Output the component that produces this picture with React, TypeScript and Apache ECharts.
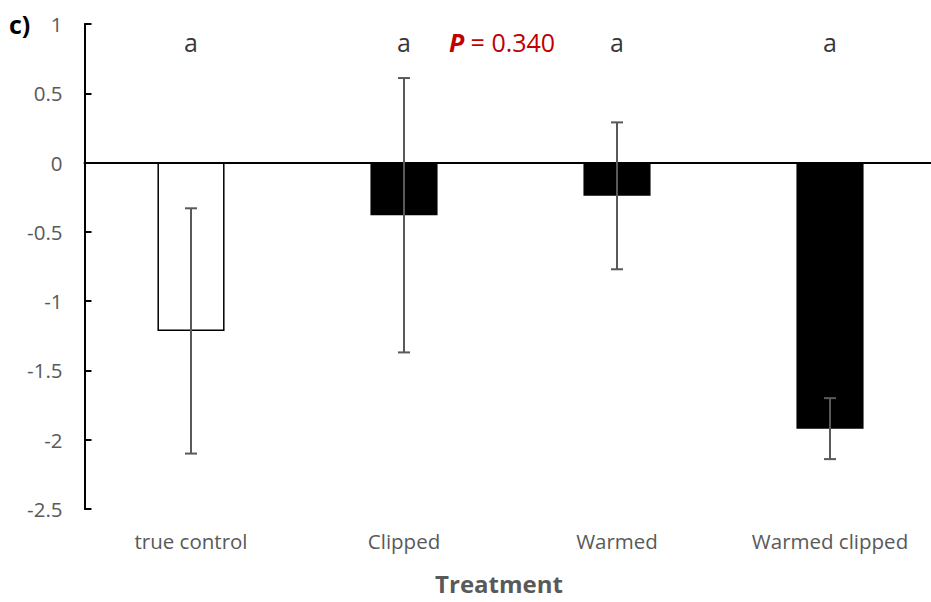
import React, { useEffect, useRef } from "react";
import * as echarts from "echarts";

const categories = ["true control", "Clipped", "Warmed", "Warmed clipped"];
const means = [-1.215, -0.38, -0.24, -1.92];
const errUpper = [-0.33, 0.61, 0.29, -1.70];
const errLower = [-2.10, -1.37, -0.77, -2.14];
const letters = ["a", "a", "a", "a"];
const barColors = ["#ffffff", "#000000", "#000000", "#000000"];
const yTicks = { min: -2.5, max: 1, interval: 0.5 };
const pText = "0.340";

export default function App() {
  const ref = useRef<HTMLDivElement>(null);
  useEffect(() => {
    if (!ref.current) return;
    const chart = echarts.init(ref.current, null, { renderer: "svg" });
    const font = "'Open Sans', 'Noto Sans', sans-serif";
    const gray = "#595959";
    chart.setOption({
      animation: false,
      grid: { left: 84.5, top: 24, width: 852, height: 485, containLabel: false },
      xAxis: [
        {
          type: "category",
          data: categories,
          axisLine: { onZero: true, lineStyle: { color: "#000", width: 2 } },
          axisTick: { show: false },
          axisLabel: { show: false },
          splitLine: { show: false },
        },
        {
          type: "category",
          data: categories,
          position: "bottom",
          axisLine: { show: false },
          axisTick: { show: false },
          axisLabel: { color: gray, fontSize: 20.5, fontFamily: font, margin: 21 },
          splitLine: { show: false },
        },
      ],
      yAxis: {
        type: "value",
        min: yTicks.min,
        max: yTicks.max,
        interval: yTicks.interval,
        axisLine: { show: true, lineStyle: { color: "#000", width: 2 } },
        axisTick: { show: true, inside: true, length: 7, lineStyle: { color: "#000", width: 2 } },
        axisLabel: { color: gray, fontSize: 20.5, fontFamily: font, margin: 22 },
        splitLine: { show: false },
      },
      graphic: [
        {
          type: "text",
          x: 9,
          y: 24,
          style: { text: "c)", fontSize: 25, fontWeight: "bold", fill: "#000", fontFamily: font, verticalAlign: "middle" },
        },
        {
          type: "text",
          x: 502,
          y: 42,
          style: {
            text: "{b|P}{n|\u00a0= " + pText + "}",
            rich: {
              b: { fontSize: 25, fontWeight: "bold", fontStyle: "italic", fill: "#C00000", fontFamily: font },
              n: { fontSize: 25, fill: "#C00000", fontFamily: font },
            },
            align: "center",
            verticalAlign: "middle",
          },
        },
        {
          type: "text",
          x: 499,
          y: 583,
          style: {
            text: "Treatment",
            fontSize: 24,
            fontWeight: "bold",
            fill: gray,
            fontFamily: font,
            align: "center",
            verticalAlign: "middle",
          },
        },
      ],
      series: [
        {
          type: "bar",
          data: means.map((v, i) => ({
            value: v,
            itemStyle: { color: barColors[i], borderColor: "#000", borderWidth: 1.5 },
          })),
          barWidth: "31.5%",
        },
        {
          type: "custom",
          data: categories.map((_, i) => [i, errUpper[i], errLower[i]]),
          renderItem: (params: any, api: any) => {
            const x = api.value(0);
            const top = api.coord([x, api.value(1)]);
            const bot = api.coord([x, api.value(2)]);
            const cap = 6;
            const st = { stroke: "#595959", lineWidth: 2 };
            return {
              type: "group",
              children: [
                { type: "line", shape: { x1: top[0], y1: top[1], x2: bot[0], y2: bot[1] }, style: st },
                { type: "line", shape: { x1: top[0] - cap, y1: top[1], x2: top[0] + cap, y2: top[1] }, style: st },
                { type: "line", shape: { x1: bot[0] - cap, y1: bot[1], x2: bot[0] + cap, y2: bot[1] }, style: st },
              ],
            };
          },
          z: 5,
        },
        {
          type: "scatter",
          data: categories.map((_, i) => [i, 0.87]),
          symbolSize: 0,
          label: {
            show: true,
            position: "inside",
            formatter: (p: any) => letters[p.dataIndex],
            color: "#000",
            fontSize: 25,
            fontFamily: font,
          },
          silent: true,
        },
      ],
    });
    return () => chart.dispose();
  }, []);
  return (
    <div style={{ width: 931, height: 602, position: "absolute", left: 0, top: 0, overflow: "hidden" }}>
      <div ref={ref} style={{ width: 940, height: 602 }} />
    </div>
  );
}
